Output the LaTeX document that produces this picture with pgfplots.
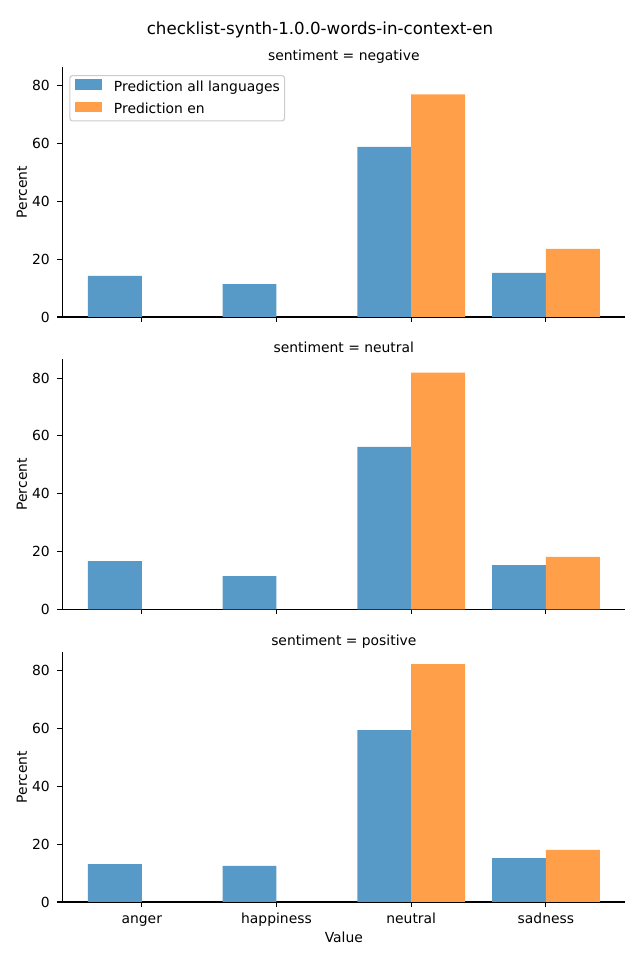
\documentclass[border=0pt]{standalone}
\usepackage{fontspec}
\setmainfont{DejaVu Sans}
\usepackage{pgfplots}
\pgfplotsset{compat=1.18}
\definecolor{cblue}{RGB}{87,153,199}
\definecolor{corange}{RGB}{255,159,74}
\definecolor{legedge}{RGB}{204,204,204}
\pgfplotsset{
 panel/.style={
  scale only axis, width=405.4pt, height=180pt,
  anchor=south west,
  axis lines=left, axis line style={-, line width=0.8pt},
  xmin=-0.59, xmax=3.59, ymin=0, ymax=86.5,
  xtick={0,1,2,3}, ytick={0,20,40,60,80},
  tick align=outside, major tick length=3.5pt,
  every tick/.style={black, line width=0.8pt},
  tick label style={font=\fontsize{10}{12}\selectfont, /pgf/number format/assume math mode=true},
  yticklabel style={anchor=east, inner sep=0pt, xshift=-5.3pt},
  xticklabel style={anchor=north, inner sep=0pt, yshift=-4.2pt, text height=7.6pt},
  ylabel={Percent},
  ylabel style={at={(axis description cs:-0.0716,0.5)}, anchor=center, font=\fontsize{10}{12}\selectfont},
  every axis title/.style={at={(axis description cs:0.5,1)}, anchor=base, yshift=5.0pt, font=\fontsize{10}{12}\selectfont, inner sep=0pt},
 },
 bblue/.style={ybar, bar width=0.4, bar shift=-0.2, fill=cblue, draw=none},
 borange/.style={ybar, bar width=0.4, bar shift=0.2, fill=corange, draw=none},
}
\begin{document}
\begin{tikzpicture}
\path[use as bounding box] (0,0) rectangle (460.8pt,691.2pt);
\node[anchor=base, font=\fontsize{12}{14}\selectfont, inner sep=0pt] at (230.4pt,666.7pt) {checklist-synth-1.0.0-words-in-context-en};

% Panel 1
\begin{axis}[panel, at={(44.86pt,462.96pt)},
  title={sentiment = negative}, xticklabels={},
  legend cell align=left,
  legend style={at={(axis description cs:0,1)}, anchor=north west, xshift=5pt, yshift=-5.8pt,
    draw=legedge, line width=0.8pt, rounded corners=2pt, fill=white,
    font=\fontsize{10}{12}\selectfont, inner xsep=3.4pt, inner ysep=2.6pt, row sep=5pt,
    nodes={inner sep=0pt, text height=7.6pt, text depth=2.4pt},
    /tikz/every odd column/.style={column sep=8.4pt}},
  legend image code/.code={\fill[#1, sharp corners] (0pt,-1.2pt) rectangle (20pt,6.2pt);},
]
\addplot[bblue] coordinates {(0,14.2) (1,11.4) (2,58.9) (3,15.3)};
\addlegendentry{Prediction all languages}
\addplot[borange] coordinates {(2,77.0) (3,23.6)};
\addlegendentry{Prediction en}
\end{axis}

% Panel 2
\begin{axis}[panel, at={(44.86pt,252.5pt)},
  title={sentiment = neutral}, xticklabels={}]
\addplot[bblue] coordinates {(0,16.7) (1,11.5) (2,56.2) (3,15.3)};
\addplot[borange] coordinates {(2,81.9) (3,18.1)};
\end{axis}

% Panel 3
\begin{axis}[panel, at={(44.86pt,41.76pt)},
  title={sentiment = positive},
  xticklabels={anger,happiness,neutral,sadness},
  xlabel={Value},
  xlabel style={at={(axis description cs:0.5,-0.14)}, anchor=center, font=\fontsize{10}{12}\selectfont}]
\addplot[bblue] coordinates {(0,13.1) (1,12.5) (2,59.5) (3,15.2)};
\addplot[borange] coordinates {(2,82.3) (3,18.0)};
\end{axis}
\end{tikzpicture}
\end{document}
